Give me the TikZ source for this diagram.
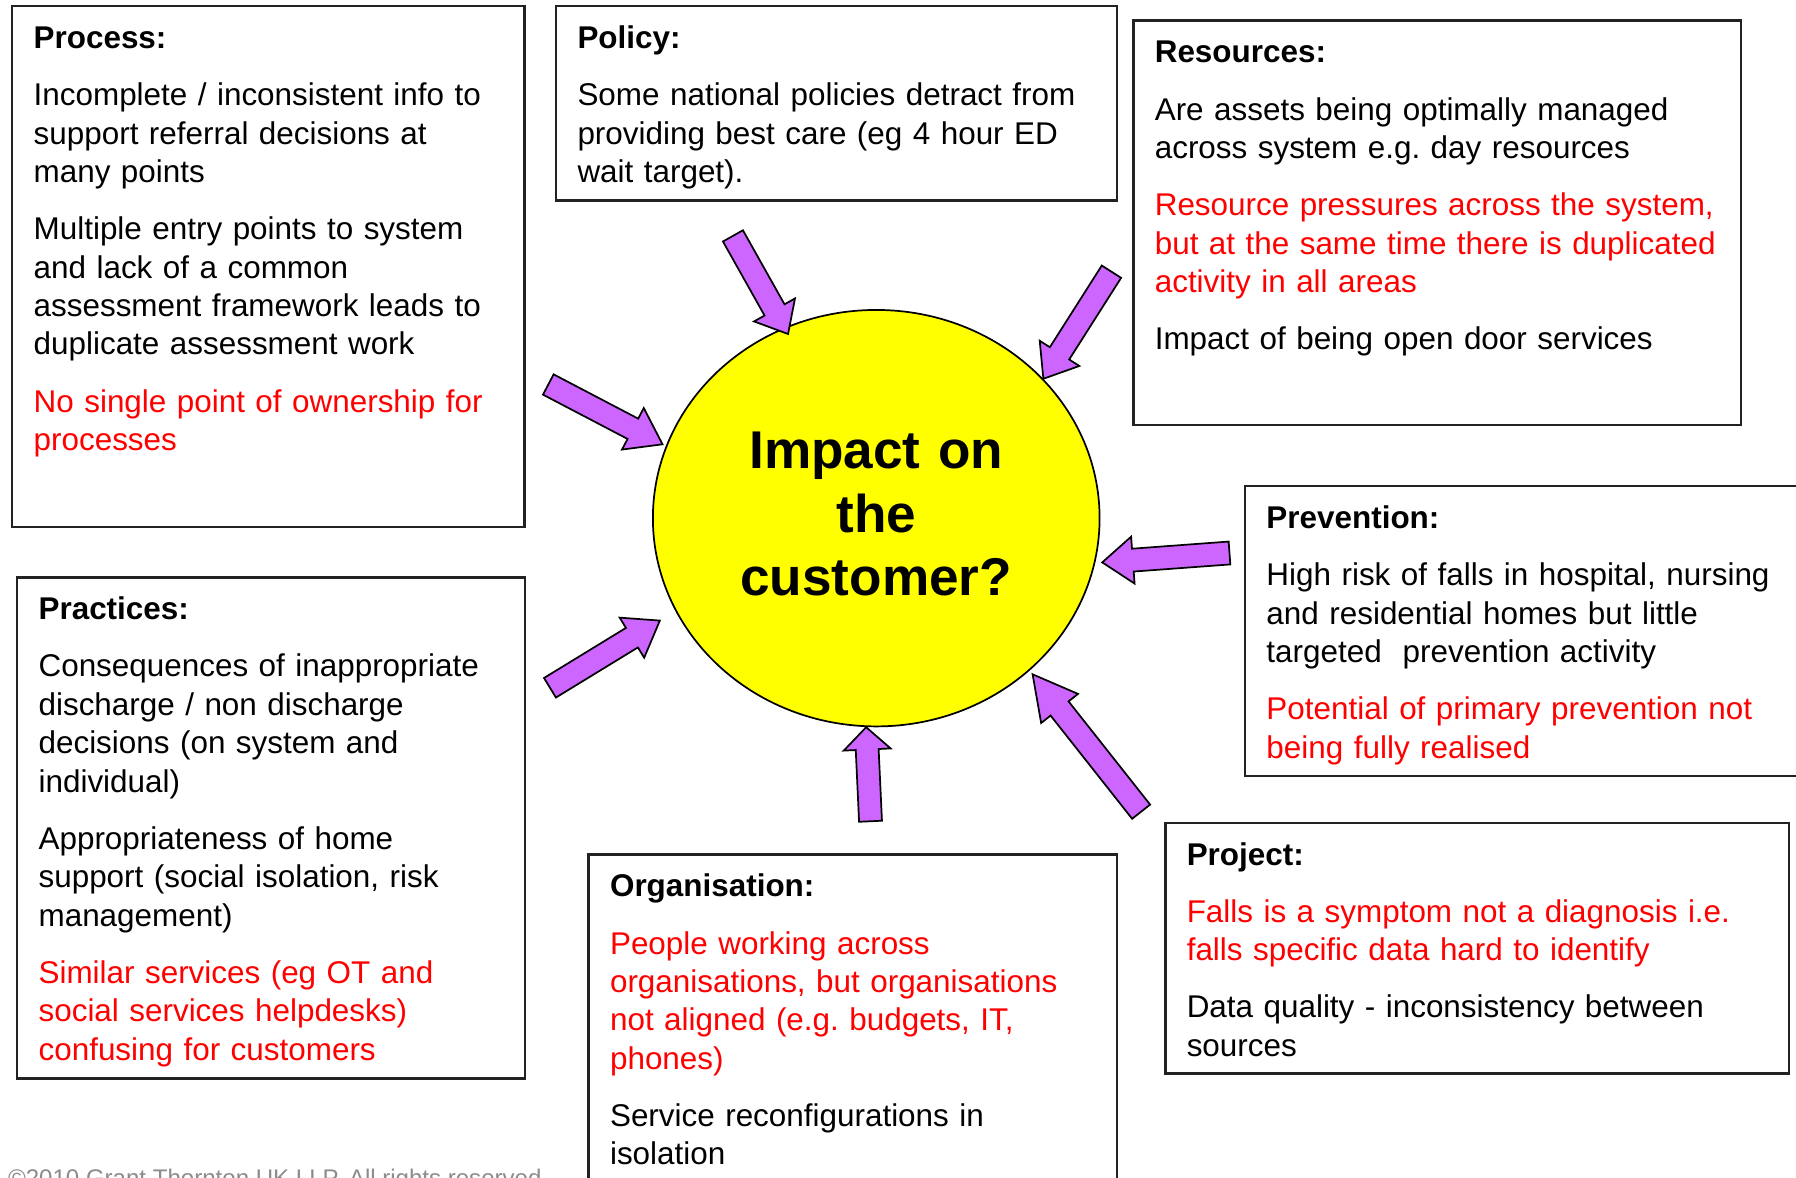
\documentclass[tikz,border=0pt]{standalone}
\usepackage{fontspec}
\setmainfont{Liberation Sans}
\usetikzlibrary{calc,fit,shapes.geometric}
\definecolor{arrowfill}{HTML}{CC66FF}
\definecolor{circfill}{HTML}{FFFF00}
\definecolor{boxline}{HTML}{222222}
\setlength{\parindent}{0pt}
\frenchspacing
\newcommand{\pgap}{\\[8.25pt]}
\newcommand{\blkarrow}[3]{%
  \coordinate (#1-b) at ($(#2)!#3!(#1)$);
  \filldraw[arrowstyle] ($(#1)!5pt!90:(#2)$) -- ($(#1-b)!5pt!90:(#2)$) -- ($(#1-b)!10.25pt!90:(#2)$) -- (#2) -- ($(#1-b)!10.25pt!-90:(#2)$) -- ($(#1-b)!5pt!-90:(#2)$) -- ($(#1)!5pt!-90:(#2)$) -- cycle;
}
\begin{document}
\begin{tikzpicture}[x=0.5pt,y=-0.5pt,
  box/.style={draw=boxline,line width=1pt,inner sep=0pt,outer sep=0pt},
  txt/.style={anchor=north west,inner sep=0pt,text width=280pt,align=left,font=\fontsize{13.72}{16.75}\selectfont},
  arrowstyle/.style={fill=arrowfill,draw=black,line width=0.75pt,line join=miter}]
\useasboundingbox (0,0) rectangle (1568,1028.43);
\fill[white] (0,0) rectangle (1568,1028.43);

% boxes
\node[box,fit={(10.7,5.5) (458,460)}] (proc) {};
\node[box,fit={(485.5,5.5) (975.3,175)}] (pol) {};
\node[box,fit={(989.5,18) (1519.7,371.3)}] (res) {};
\node[box,fit={(1087,424.5) (1600,677.5)}] (prev) {};
\node[box,fit={(1017.4,718.4) (1562,937.2)}] (proj) {};
\node[box,fit={(15,504.2) (458.4,941.5)}] (prac) {};
\node[box,fit={(513.9,746.1) (975.3,1060)}] (org) {};

% texts
\node[txt] (proct) at ([shift={(18.3,12.95)}]proc.north west) {\strut\textbf{Process:}\pgap
Incomplete / inconsistent info to\\
support referral decisions at\\
many points\pgap
Multiple entry points to system\\
and lack of a common\\
assessment framework leads to\\
duplicate assessment work\pgap
{\color{red}No single point of ownership for\\
processes}};

\node[txt] (polt) at ([shift={(18.3,12.95)}]pol.north west) {\strut\textbf{Policy:}\pgap
Some national policies detract from\\
providing best care (eg 4 hour ED\\
wait target).};

\node[txt] (rest) at ([shift={(18.3,12.95)}]res.north west) {\strut\textbf{Resources:}\pgap
Are assets being optimally managed\\
across system e.g. day resources\pgap
{\color{red}Resource pressures across the system,\\
but at the same time there is duplicated\\
activity in all areas}\pgap
Impact of being open door services};

\node[txt] (prevt) at ([shift={(18.3,12.95)}]prev.north west) {\strut\textbf{Prevention:}\pgap
High risk of falls in hospital, nursing\\
and residential homes but little\\
targeted\ \ prevention activity\pgap
{\color{red}Potential of primary prevention not\\
being fully realised}};

\node[txt] (projt) at ([shift={(18.3,12.95)}]proj.north west) {\strut\textbf{Project:}\pgap
{\color{red}Falls is a symptom not a diagnosis i.e.\\
falls specific data hard to identify}\pgap
Data quality - inconsistency between\\
sources};

\node[txt] (pract) at ([shift={(18.3,12.95)}]prac.north west) {\strut\textbf{Practices:}\pgap
Consequences of inappropriate\\
discharge / non discharge\\
decisions (on system and\\
individual)\pgap
Appropriateness of home\\
support (social isolation, risk\\
management)\pgap
{\color{red}Similar services (eg OT and\\
social services helpdesks)\\
confusing for customers}};

\node[txt] (orgt) at ([shift={(18.3,12.95)}]org.north west) {\strut\textbf{Organisation:}\pgap
{\color{red}People working across\\
organisations, but organisations\\
not aligned (e.g. budgets, IT,\\
phones)}\pgap
Service reconfigurations in\\
isolation};

% centre
\node[draw=black,line width=0.75pt,fill=circfill,ellipse,inner sep=0pt,minimum width=195pt,minimum height=181.8pt] (c) at (765,452.4) {};
\node[anchor=north,inner sep=0pt,text width=200pt,align=center,font=\bfseries\fontsize{23.2}{27.65}\selectfont] (ct) at (765,370.3) {\strut Impact on\\the\\customer?};

% arrows
\coordinate (a1) at (478.7,335.7);  \coordinate (a1h) at (578.4,387.9);
\coordinate (a2) at (639.9,205.95); \coordinate (a2h) at (688,291.6);
\coordinate (a3) at (970.35,237.2); \coordinate (a3h) at (910.9,330.7);
\coordinate (a4) at (1073.4,482.8); \coordinate (a4h) at (962.3,491);
\coordinate (a5) at (996.25,708.65);\coordinate (a5h) at (901.5,588.7);
\coordinate (a6) at (760,717);      \coordinate (a6h) at (756.2,634.9);
\coordinate (a7) at (480.15,600.45);\coordinate (a7h) at (576.1,541.8);
\blkarrow{a1}{a1h}{14.6pt}
\blkarrow{a2}{a2h}{12.05pt}
\blkarrow{a3}{a3h}{13.15pt}
\blkarrow{a4}{a4h}{13.4pt}
\blkarrow{a5}{a5h}{19pt}
\blkarrow{a6}{a6h}{9.75pt}
\blkarrow{a7}{a7h}{14.3pt}

% footer
\node[anchor=base west,inner sep=0pt,text=black!45,font=\fontsize{10.5}{12}\selectfont] (copy) at (6.7,1036) {©2010 Grant Thornton UK LLP. All rights reserved.};
\end{tikzpicture}
\end{document}
